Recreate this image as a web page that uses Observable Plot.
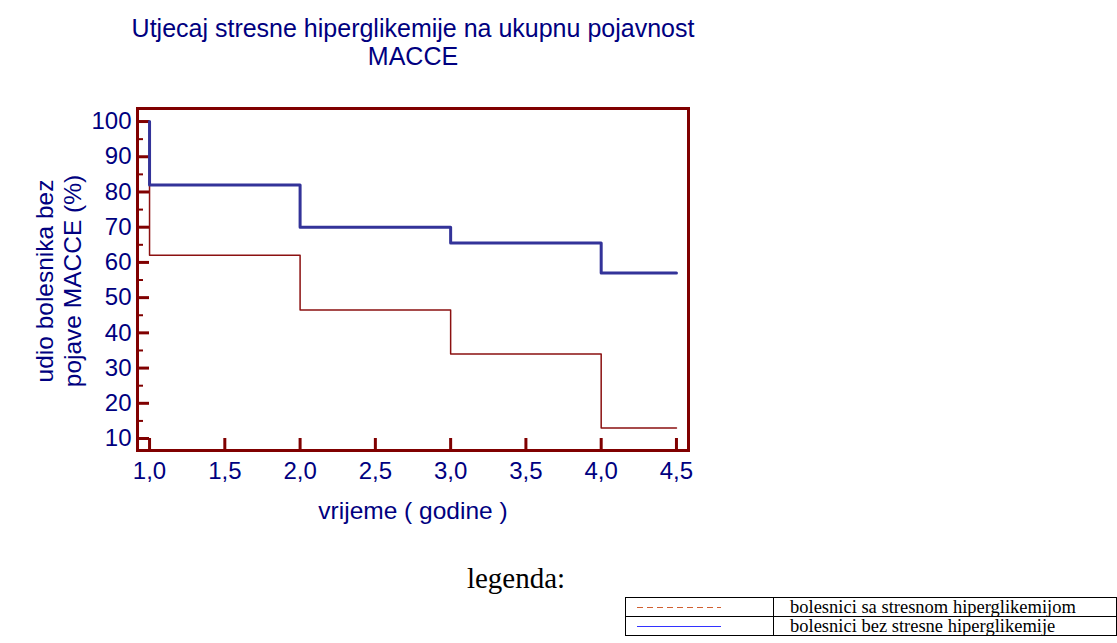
<!DOCTYPE html>
<html>
<head>
<meta charset="utf-8">
<script src="https://cdn.jsdelivr.net/npm/d3@7"></script>
<script src="https://cdn.jsdelivr.net/npm/@observablehq/plot@0.6"></script>
<style>
  html, body { margin: 0; padding: 0; background: #fff; }
  #wrap { position: relative; width: 1117px; height: 643px; overflow: hidden; font-family: "Liberation Sans", Arial, sans-serif; }
  #chart { position: absolute; left: 0; top: 0; }
  #title { position: absolute; left: 13px; width: 800px; top: 14px; text-align: center; font-size: 25px; line-height: 28px; color: #000080; }
  #xlabel { position: absolute; left: 213px; width: 400px; top: 497px; text-align: center; font-size: 24.5px; line-height: 28px; color: #000080; }
  #ylabel { position: absolute; left: 59px; top: 281px; width: 300px; transform: translate(-50%, -50%) rotate(-90deg); text-align: center; font-size: 24.5px; line-height: 28px; color: #000080; white-space: nowrap; }
  #legtitle { position: absolute; left: 366px; width: 300px; top: 561px; text-align: center; font-family: "Liberation Serif", "Times New Roman", serif; font-size: 29px; line-height: 34px; }
  #legtable { position: absolute; left: 625px; top: 597px; border-collapse: collapse; font-family: "Liberation Serif", "Times New Roman", serif; font-size: 18.5px; }
  #legtable td { border: 1.5px solid #000; height: 18px; padding: 0; line-height: 18px; white-space: nowrap; overflow: hidden; }
  #legtable td.sw { width: 147px; }
  #legtable td.lab { width: 340px; padding-left: 16px; }
  #legtable svg { display: block; }
</style>
</head>
<body>
<div id="wrap">
  <div id="chart"></div>
  <div id="title">Utjecaj stresne hiperglikemije na ukupnu pojavnost<br>MACCE</div>
  <div id="ylabel">udio bolesnika bez<br>pojave MACCE (%)</div>
  <div id="xlabel">vrijeme ( godine )</div>
  <div id="legtitle">legenda:</div>
  <table id="legtable"></table>
</div>
<script>
// Data
const years = [1.0, 1.0, 2.0, 3.0, 4.0, 4.5];
const withHyper = [100, 62, 46.5, 34, 13, 13];      // bolesnici sa stresnom hiperglikemijom
const withoutHyper = [100, 82, 70, 65.5, 57, 57];   // bolesnici bez stresne hiperglikemije
const seriesNames = ["bolesnici sa stresnom hiperglikemijom", "bolesnici bez stresne hiperglikemije"];
const xTicks = [1.0, 1.5, 2.0, 2.5, 3.0, 3.5, 4.0, 4.5];
const yTicks = [10, 20, 30, 40, 50, 60, 70, 80, 90, 100];
const yMinorTicks = [15, 25, 35, 45, 55, 65, 75, 85, 95];

const red = years.map((x, i) => ({x, y: withHyper[i]}));
const blue = years.map((x, i) => ({x, y: withoutHyper[i]}));

const axisColor = "#800000";
const textColor = "#000080";
const fmt = d => d.toFixed(1).replace(".", ",");

const mL = 137, mR = 429, mT = 108, mB = 193;
const frameW = 1117 - mL - mR, frameH = 643 - mT - mB;

const plot = Plot.plot({
  width: 1117,
  height: 643,
  marginLeft: mL,
  marginRight: mR,
  marginTop: mT,
  marginBottom: mB,
  style: {fontFamily: "'Liberation Sans', Arial, sans-serif", background: "transparent"},
  x: {domain: [0.92, 4.58]},
  y: {domain: [6.6, 103.7]},
  marks: [
    Plot.axisY(yTicks, {tickSize: 0, tickPadding: 6, fontSize: 24, fill: textColor, label: null}),
    Plot.axisX(xTicks, {tickSize: 0, tickPadding: 11, fontSize: 24, fill: textColor, label: null, tickFormat: fmt}),
    Plot.tickY(yTicks, {y: d => d, stroke: axisColor, strokeWidth: 3, insetRight: frameW - 12}),
    Plot.tickY(yMinorTicks, {y: d => d, stroke: axisColor, strokeWidth: 2, insetRight: frameW - 6}),
    Plot.tickX(xTicks, {x: d => d, stroke: axisColor, strokeWidth: 3, insetTop: frameH - 12}),
    Plot.line(red, {x: "x", y: "y", curve: "step-after", stroke: "#8b1010", strokeWidth: 1.5}),
    Plot.line(blue, {x: "x", y: "y", curve: "step-after", stroke: "#333399", strokeWidth: 3}),
    Plot.frame({stroke: axisColor, strokeWidth: 3})
  ]
});
document.getElementById("chart").appendChild(plot);

// Legend table
const legendStyles = [
  {stroke: "#d06030", dash: "6,4"},
  {stroke: "#3333ff", dash: null}
];
const table = document.getElementById("legtable");
seriesNames.forEach((name, i) => {
  const tr = document.createElement("tr");
  const sw = document.createElement("td");
  sw.className = "sw";
  const s = legendStyles[i];
  sw.innerHTML = `<svg width="147" height="18"><line x1="11" x2="95" y1="9.5" y2="9.5" stroke="${s.stroke}" stroke-width="1" ${s.dash ? `stroke-dasharray="${s.dash}"` : ""}/></svg>`;
  const lab = document.createElement("td");
  lab.className = "lab";
  lab.textContent = name;
  tr.appendChild(sw);
  tr.appendChild(lab);
  table.appendChild(tr);
});
</script>
</body>
</html>
